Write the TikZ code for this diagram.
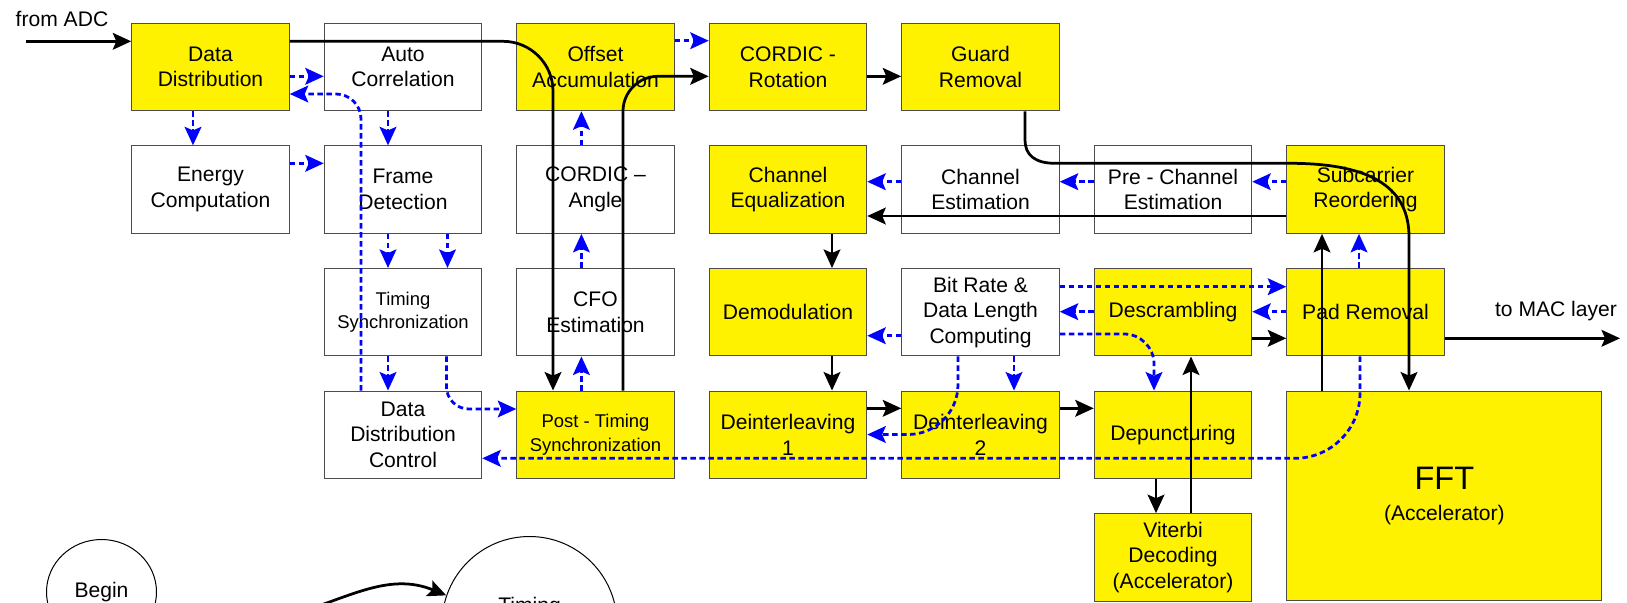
\documentclass[tikz,border=0pt]{standalone}
\usepackage{fontspec}
\setmainfont{Liberation Sans}
\usetikzlibrary{arrows.meta,shapes.geometric}

\begin{document}
\begin{tikzpicture}[x=0.2mm,y=-0.2mm,
    font=\fontsize{12}{14.6}\selectfont,
    blk/.style={draw=black!70,line width=0.2mm,minimum width=31.5mm,minimum height=17.5mm,inner sep=0pt,align=center},
    hw/.style={blk,fill=yellow},
    sw/.style={blk,fill=white},
    small/.style={font=\fontsize{10.5}{13.5}\selectfont},
    flow/.style={line width=0.55mm,-{Stealth[length=10.5pt,width=9.5pt,inset=2pt]}},
    ctrl/.style={flow,blue,dash pattern=on 1.1mm off 0.7mm},
    bubble/.style={draw,line width=0.2mm}]
    \clip (0,0) rectangle (1627,602);
    \useasboundingbox (0,0) rectangle (1627,602);

    \node[hw] (dd) at (210.5,67) {Data\\Distribution};
    \node[sw] (ac) at (403,67) {Auto\\Correlation};
    \node[hw] (oa) at (595.5,67) {Offset\\Accumulation};
    \node[hw] (cr) at (788,67) {CORDIC -\\Rotation};
    \node[hw] (gr) at (980.5,67) {Guard\\Removal};

    \node[sw] (ec) at (210.5,189.6) {Energy\\Computation};
    \node[sw] (fd) at (403,189.6) {Frame\\Detection};
    \node[sw] (ca) at (595.5,189.6) {CORDIC --\\Angle};
    \node[hw] (ceq) at (788,189.6) {Channel\\Equalization};
    \node[sw] (che) at (980.5,189.6) {Channel\\Estimation};
    \node[sw] (pce) at (1173,189.6) {Pre - Channel\\Estimation};
    \node[hw] (sr) at (1365.5,189.6) {Subcarrier\\Reordering};

    \node[sw,small] (ts) at (403,312.2) {Timing\\Synchronization};
    \node[sw] (cfo) at (595.5,312.2) {CFO\\Estimation};
    \node[hw] (dem) at (788,312.2) {Demodulation};
    \node[sw] (br) at (980.5,312.2) {Bit Rate \&\\Data Length\\Computing};
    \node[hw] (dsc) at (1173,312.2) {Descrambling};
    \node[hw] (pr) at (1365.5,312.2) {Pad Removal};

    \node[sw] (ddc) at (403,434.8) {Data\\Distribution\\Control};
    \node[hw,small] (pts) at (595.5,434.8) {Post - Timing\\Synchronization};
    \node[hw] (di1) at (788,434.8) {Deinterleaving\\1};
    \node[hw] (di2) at (980.5,434.8) {Deinterleaving\\2};
    \node[hw] (dp) at (1173,434.8) {Depuncturing};

    \node[hw] (vit) at (1173,557.4) {Viterbi\\Decoding\\(Accelerator)};
    \node[hw,minimum width=63mm,minimum height=41.9mm] (fft) at (1444.4,495.8)
        {{\fontsize{18.5}{22}\selectfont FFT}\\[3pt](Accelerator)};

    \node[bubble,ellipse,minimum width=22mm,minimum height=21mm] (bg) at (101.5,592) {Begin};
    \node[bubble,circle,minimum size=35mm,text height=3mm,text depth=7.8mm] (tm) at (529.5,624) {Timing};

    \coordinate (adc) at (26,41.3);
    \coordinate (mac) at (1620,338.3);
    \node (adctext) at (62,19) {from ADC};
    \node (mactext) at (1556,311) {to MAC layer};

    \draw[flow] (adc) -- (dd.west |- adc);
    \draw[flow,rounded corners=10mm] (dd.east |- 0,41.3) -- (553,41.3) -- (pts.north -| 553,0);
    \draw[flow,rounded corners=7mm] (pts.north -| 623,0) -- (623,76.3) -- (cr.west |- 0,76.3);
    \draw[flow] (cr.east |- 0,76.3) -- (gr.west |- 0,76.3);
    \draw[flow] (gr.south -| 1025,0) -- (1025,140) .. controls (1025,155) and (1035,163.3) .. (1055,163.3)
        -- (1290,163.3) .. controls (1375,163.3) and (1409,190) .. (1409,237) -- (fft.north -| 1409,0);
    \draw[flow] (sr.west |- 0,216) -- (ceq.east |- 0,216);
    \draw[flow] (ceq.south -| 832,0) -- (dem.north -| 832,0);
    \draw[flow] (dem.south -| 832,0) -- (di1.north -| 832,0);
    \draw[flow] (di1.east |- 0,408.3) -- (di2.west |- 0,408.3);
    \draw[flow] (di2.east |- 0,408.3) -- (dp.west |- 0,408.3);
    \draw[flow] (dp.south -| 1156,0) -- (vit.north -| 1156,0);
    \draw[flow] (vit.north -| 1191,0) -- (dsc.south -| 1191,0);
    \draw[flow] (dsc.east |- 0,338.3) -- (pr.west |- 0,338.3);
    \draw[flow] (pr.east |- mac) -- (mac);
    \draw[flow] (fft.north -| 1322,0) -- (sr.south -| 1322,0);
    \draw[flow] (bg.-35) .. controls (300,650) and (360,560) .. (tm.161);

    \draw[ctrl] (dd.east |- 0,76.3) -- (ac.west |- 0,76.3);
    \draw[ctrl,rounded corners=5mm] (ddc.north -| 361,0) -- (361,94) -- (dd.east |- 0,94);
    \draw[ctrl] (dd.south -| 193,0) -- (ec.north -| 193,0);
    \draw[ctrl] (ec.east |- 0,163.3) -- (fd.west |- 0,163.3);
    \draw[ctrl] (ac.south -| 388,0) -- (fd.north -| 388,0);
    \draw[ctrl] (fd.south -| 388,0) -- (ts.north -| 388,0);
    \draw[ctrl] (fd.south -| 447.5,0) -- (ts.north -| 447.5,0);
    \draw[ctrl] (ts.south -| 388,0) -- (ddc.north -| 388,0);
    \draw[ctrl,rounded corners=4.5mm] (ts.south -| 446.4,0) -- (446.4,409) -- (pts.west |- 0,409);
    \draw[ctrl] (pts.north -| 581.4,0) -- (cfo.south -| 581.4,0);
    \draw[ctrl] (cfo.north -| 581.4,0) -- (ca.south -| 581.4,0);
    \draw[ctrl] (ca.north -| 581.4,0) -- (oa.south -| 581.4,0);
    \draw[ctrl] (oa.east |- 0,40.7) -- (cr.west |- 0,40.7);
    \draw[ctrl] (che.west |- 0,181.7) -- (ceq.east |- 0,181.7);
    \draw[ctrl] (pce.west |- 0,181.7) -- (che.east |- 0,181.7);
    \draw[ctrl] (sr.west |- 0,181.7) -- (pce.east |- 0,181.7);
    \draw[ctrl] (pr.north -| 1359,0) -- (sr.south -| 1359,0);
    \draw[ctrl] (br.west |- 0,335.7) -- (dem.east |- 0,335.7);
    \draw[ctrl] (dsc.west |- 0,311.7) -- (br.east |- 0,311.7);
    \draw[ctrl] (pr.west |- 0,311.7) -- (dsc.east |- 0,311.7);
    \draw[ctrl] (br.east |- 0,286.7) -- (pr.west |- 0,286.7);
    \draw[ctrl,rounded corners=6mm] (br.east |- 0,334) -- (1154,334) -- (dp.north -| 1154,0);
    \draw[ctrl] (br.south -| 1014,0) -- (di2.north -| 1014,0);
    \draw[ctrl,rounded corners=10mm] (br.south -| 958,0) -- (958,434.5) -- (di1.east |- 0,434.5);
    \draw[ctrl,rounded corners=13mm] (pr.south -| 1360,0) -- (1360,458.3) -- (ddc.east |- 0,458.3);
\end{tikzpicture}
\end{document}
